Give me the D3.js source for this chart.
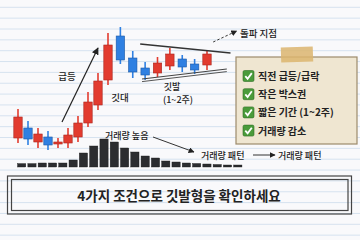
<!DOCTYPE html>
<html>
<head>
<meta charset="utf-8">
<script src="https://cdn.jsdelivr.net/npm/d3@7"></script>
<style>
  body { margin: 0; background: #f9f9fb; }
  svg { display: block; }
  text { font-family: "Noto Sans CJK KR", "Noto Sans", sans-serif; fill: #222; }
</style>
</head>
<body>
<svg></svg>
<script>
// data (price units, candle index order)
var candleOpen  = [12, 22, 8, 13, 6, 7, 13, 27, 45, 70, 114, 92, 82, 77, 84, 91, 86, 85]
var candleClose = [33, 11, 16, 5, 8, 15, 27, 48, 69, 105, 90, 78, 75, 87, 96, 83, 80, 96]
var candleHigh  = [41, 29, 22, 19, 12, 22, 34, 58, 77, 117, 123, 99, 88, 93, 102, 95, 91, 100]
var candleLow   = [7, 5, 2, 0, 2, 2, 8, 23, 40, 65, 86, 72, 70, 73, 80, 78, 76, 80]

var volume = [3.4, 3.4, 4, 4, 4, 7, 14, 21, 28, 25, 19, 15, 11, 9, 6, 5, 4, 3.5, 3, 2.5, 2, 2]

var resistance = [[11.6, 106], [18.9, 97]]
var support = [[11.75, 71], [18.6, 81]]
var surgeArrow = [[4.4, 28], [8.0, 102]]
var breakArrow = [[17.5, 108], [19.4, 119]]

var checklist = ['직전 급등/급락', '작은 박스권', '짧은 기간 (1~2주)', '거래량 감소']
var title = '4가지 조건으로 깃발형을 확인하세요'

var w = 360
var h = 240

var red = '#e23b2f'
var redDark = '#a9271e'
var blue = '#2f80e2'
var blueDark = '#1c58a6'

var svg = d3.select('svg')
    .attr('width', w)
    .attr('height', h)

// paper
svg.append('rect').attr('width', w).attr('height', h).attr('fill', '#f9f9fb')
svg.append('g').selectAll('line')
  .data(d3.range(7.3, h, 10.85))
  .enter().append('line')
  .attr('x1', 0).attr('x2', w)
  .attr('y1', function (d) { return d })
  .attr('y2', function (d) { return d })
  .attr('stroke', '#d6e2ef')
  .attr('stroke-width', 1)

var defs = svg.append('defs')
defs.append('marker')
  .attr('id', 'arrow')
  .attr('viewBox', '0 0 10 10')
  .attr('refX', 9).attr('refY', 5)
  .attr('markerWidth', 6).attr('markerHeight', 6)
  .attr('orient', 'auto-start-reverse')
  .append('path')
  .attr('d', 'M0,0 L10,5 L0,10 z')
  .attr('fill', '#222')

// scales
var x = d3.scaleLinear().domain([0, 9, 17]).range([18, 108, 207])
var y = d3.scaleLinear().domain([0, 120]).range([150, 30])

var line = d3.line()
  .x(function (d) { return x(d[0]) })
  .y(function (d) { return y(d[1]) })

// candles
var candles = candleOpen.map(function (o, i) {
  return { i: i, o: o, c: candleClose[i], hi: candleHigh[i], lo: candleLow[i] }
})

var gc = svg.append('g')
gc.selectAll('line.wick')
  .data(candles)
  .enter().append('line')
  .attr('class', 'wick')
  .attr('x1', function (d) { return x(d.i) })
  .attr('x2', function (d) { return x(d.i) })
  .attr('y1', function (d) { return y(d.hi) })
  .attr('y2', function (d) { return y(d.lo) })
  .attr('stroke', function (d) { return d.c >= d.o ? red : blue })
  .attr('stroke-width', 1.6)

gc.selectAll('rect')
  .data(candles)
  .enter().append('rect')
  .attr('x', function (d) { return x(d.i) - 4.2 })
  .attr('width', 8.4)
  .attr('y', function (d) { return y(Math.max(d.o, d.c)) })
  .attr('height', function (d) { return Math.max(2, Math.abs(y(d.o) - y(d.c))) })
  .attr('fill', function (d) { return d.c >= d.o ? red : blue })
  .attr('stroke', function (d) { return d.c >= d.o ? redDark : blueDark })
  .attr('stroke-width', 0.6)

// flag lines
svg.append('path').attr('d', line(resistance))
  .attr('fill', 'none').attr('stroke', '#333').attr('stroke-width', 1.5)
svg.append('path').attr('d', line(support))
  .attr('fill', 'none').attr('stroke', '#444').attr('stroke-width', 1.1)
svg.append('path').attr('d', line(support))
  .attr('transform', 'translate(0,2.6)')
  .attr('fill', 'none').attr('stroke', '#555').attr('stroke-width', 1)

svg.append('path').attr('d', line(surgeArrow))
  .attr('fill', 'none').attr('stroke', '#222').attr('stroke-width', 1.2)
  .attr('marker-end', 'url(#arrow)')
svg.append('path').attr('d', line(breakArrow))
  .attr('fill', 'none').attr('stroke', '#333').attr('stroke-width', 1)
  .attr('stroke-dasharray', '2.5,2')
  .attr('marker-end', 'url(#arrow)')

// volume
var xv = d3.scaleBand().domain(d3.range(volume.length)).range([15.5, 244]).padding(0.2)
var yv = d3.scaleLinear().domain([0, 28]).range([167, 139])

svg.append('g').selectAll('rect')
  .data(volume)
  .enter().append('rect')
  .attr('x', function (d, i) { return xv(i) })
  .attr('width', xv.bandwidth())
  .attr('y', function (d) { return yv(d) })
  .attr('height', function (d) { return yv(0) - yv(d) })
  .attr('fill', '#2c2d30')
  .attr('stroke', '#1a1a1a')
  .attr('stroke-width', 0.4)

// labels
function label (t, px, py, size, anchor) {
  return svg.append('text').text(t)
    .attr('x', px).attr('y', py)
    .attr('text-anchor', anchor || 'start')
    .style('font-size', size + 'px')
    .style('font-weight', 500)
}
label('급등', 67, 80, 9.5, 'middle')
label('깃대', 120, 101, 9.5, 'middle')
label('깃발', 172, 89.5, 9, 'middle')
label('(1~2주)', 178, 102.5, 9, 'middle')
label('돌파 지점', 240, 37, 9.5)
label('거래량 높음', 105, 139, 9)
label('거래량 패턴', 201, 158.5, 9)
label('거래량 패턴', 278, 158.5, 9)

svg.append('path').attr('d', 'M153,137 L194,152')
  .attr('stroke', '#333').attr('stroke-width', 1).attr('fill', 'none')
  .attr('marker-end', 'url(#arrow)')
svg.append('path').attr('d', 'M253,155 L275,155')
  .attr('stroke', '#333').attr('stroke-width', 1).attr('fill', 'none')
  .attr('marker-end', 'url(#arrow)')

// checklist card
var card = svg.append('g')
card.append('rect')
  .attr('x', 236).attr('y', 57).attr('width', 121).attr('height', 87)
  .attr('fill', '#efe6d1').attr('stroke', '#9c8a6b').attr('stroke-width', 1.2)
card.append('rect')
  .attr('x', 281).attr('y', 47).attr('width', 32).attr('height', 15)
  .attr('fill', '#dcb56e').attr('opacity', 0.85)
  .attr('transform', 'rotate(-2 297 55)')

var items = card.selectAll('g.item')
  .data(checklist)
  .enter().append('g')
  .attr('class', 'item')
  .attr('transform', function (d, i) { return 'translate(243,' + (70.5 + i * 18.2) + ')' })
items.append('rect')
  .attr('width', 11).attr('height', 11).attr('rx', 1.5)
  .attr('fill', '#4a9b3b').attr('stroke', '#2f6e25').attr('stroke-width', 0.6)
items.append('path')
  .attr('d', 'M2.3,5.6 L4.6,8.3 L8.8,2.6')
  .attr('fill', 'none').attr('stroke', '#fff').attr('stroke-width', 1.8)
items.append('text')
  .text(function (d) { return d })
  .attr('x', 15).attr('y', 9.5)
  .style('font-size', '10px')
  .style('font-weight', 700)

// title box
svg.append('rect')
  .attr('x', 7.5).attr('y', 176).attr('width', 344).attr('height', 38)
  .attr('fill', 'none').attr('stroke', '#444').attr('stroke-width', 1.2)
svg.append('rect')
  .attr('x', 11.5).attr('y', 179.5).attr('width', 336.5).attr('height', 31)
  .attr('fill', 'none').attr('stroke', '#444').attr('stroke-width', 1.2)
svg.append('text')
  .text(title)
  .attr('x', 179).attr('y', 200.5)
  .attr('text-anchor', 'middle')
  .style('font-size', '13.5px')
  .style('font-weight', 700)
</script>
</body>
</html>
